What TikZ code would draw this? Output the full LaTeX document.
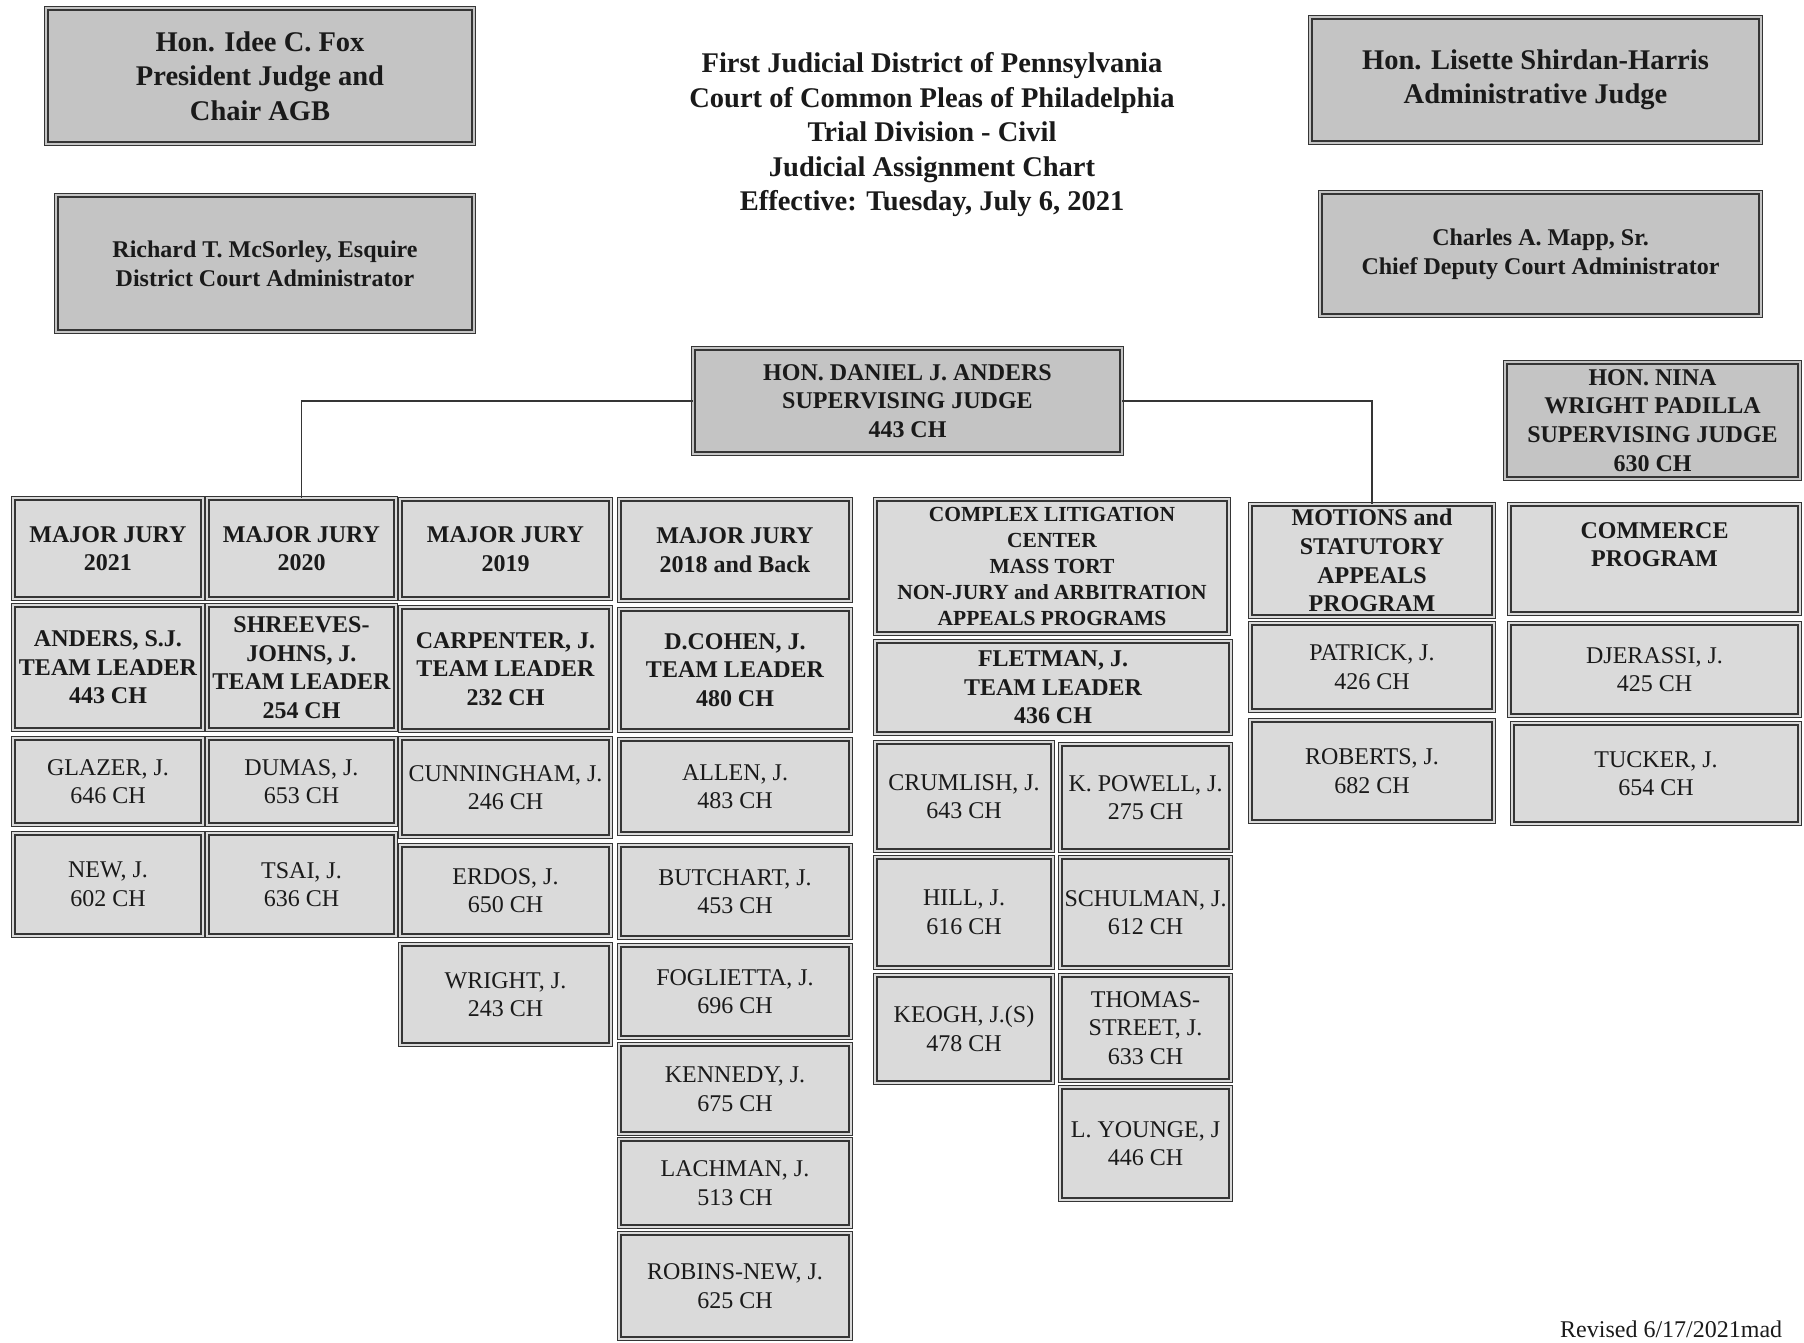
\documentclass[tikz,border=0pt]{standalone}
\usepackage{fontspec}
\setmainfont{Liberation Serif}
\definecolor{topfill}{HTML}{C4C4C4}
\definecolor{cellfill}{HTML}{DADADA}
\definecolor{bordc}{HTML}{353535}
\definecolor{txtc}{HTML}{1A1A1A}
\newcommand{\bx}[7]{\node[#6,minimum width={(#4-#2-4.6)*1pt},minimum height={(#5-#3-4.6)*1pt}] (#1) at ({(#2+#4)/2},{(#3+#5)/2}) {#7};}
\begin{document}
\begin{tikzpicture}[x=1pt,y=-1pt,
  frame/.style={draw=bordc,line width=1.35pt,double distance=1.8pt,inner sep=0pt,align=center,text=txtc,rectangle},
  topbox/.style={frame,fill=topfill,double=topfill,font=\bfseries\fontsize{28.5}{34.5}\selectfont},
  midbox/.style={frame,fill=topfill,double=topfill,font=\bfseries\fontsize{24}{28.8}\selectfont},
  hdr/.style={frame,fill=cellfill,double=cellfill,font=\bfseries\fontsize{24}{28.6}\selectfont},
  hdrsmall/.style={frame,fill=cellfill,double=cellfill,font=\bfseries\fontsize{21.5}{26}\selectfont},
  jud/.style={frame,fill=cellfill,double=cellfill,font=\fontsize{24}{28.6}\selectfont},
  conn/.style={draw=bordc,line width=1.6pt}]
\useasboundingbox[fill=white] (0,0) rectangle (1804,1343);

% title
\node[align=center,text=txtc,font=\bfseries\fontsize{28.5}{34.5}\selectfont] (title) at (932,135)
  {First Judicial District of Pennsylvania\\Court of Common Pleas of Philadelphia\\Trial Division - Civil\\Judicial Assignment Chart\\Effective: Tuesday, July 6, 2021};

% top boxes
\bx{fox}{44}{6}{476}{146}{topbox}{Hon. Idee C. Fox\\President Judge and\\Chair AGB}
\bx{mcsorley}{54}{193}{476}{334}{topbox,font=\bfseries\fontsize{24}{28.8}\selectfont}{Richard T. McSorley, Esquire\\District Court Administrator}
\bx{shirdan}{1308}{15}{1763}{145}{topbox}{Hon. Lisette Shirdan-Harris\\Administrative Judge}
\bx{mapp}{1318}{190}{1763}{318}{topbox,font=\bfseries\fontsize{24}{28.8}\selectfont}{Charles A. Mapp, Sr.\\Chief Deputy Court Administrator}
\bx{anders}{691}{346}{1124}{456}{midbox}{HON. DANIEL J. ANDERS\\SUPERVISING JUDGE\\443 CH}
\bx{padilla}{1503}{360}{1802}{481}{midbox}{HON. NINA\\WRIGHT PADILLA\\SUPERVISING JUDGE\\630 CH}

% column A
\bx{mj21}{11}{496}{205}{601}{hdr}{MAJOR JURY\\2021}
\bx{anderssj}{11}{603}{205}{732}{hdr}{ANDERS, S.J.\\TEAM LEADER\\443 CH}
\bx{glazer}{11}{736}{205}{827}{jud}{GLAZER, J.\\646 CH}
\bx{new}{11}{831}{205}{938}{jud}{NEW, J.\\602 CH}
% column B
\bx{mj20}{205}{496}{398}{601}{hdr}{MAJOR JURY\\2020}
\bx{shreeves}{205}{603}{398}{732}{hdr}{SHREEVES-\\JOHNS, J.\\TEAM LEADER\\254 CH}
\bx{dumas}{205}{736}{398}{827}{jud}{DUMAS, J.\\653 CH}
\bx{tsai}{205}{831}{398}{938}{jud}{TSAI, J.\\636 CH}
% column C
\bx{mj19}{398}{497}{613}{601}{hdr}{MAJOR JURY\\2019}
\bx{carpenter}{398}{605}{613}{733}{hdr}{CARPENTER, J.\\TEAM LEADER\\232 CH}
\bx{cunningham}{398}{736}{613}{839}{jud}{CUNNINGHAM, J.\\246 CH}
\bx{erdos}{398}{843}{613}{938}{jud}{ERDOS, J.\\650 CH}
\bx{wright}{398}{942}{613}{1047}{jud}{WRIGHT, J.\\243 CH}
% column D
\bx{mj18}{617}{497}{853}{603}{hdr}{MAJOR JURY\\2018 and Back}
\bx{cohen}{617}{607}{853}{733}{hdr}{D.COHEN, J.\\TEAM LEADER\\480 CH}
\bx{allen}{617}{737}{853}{836}{jud}{ALLEN, J.\\483 CH}
\bx{butchart}{617}{843}{853}{940}{jud}{BUTCHART, J.\\453 CH}
\bx{foglietta}{617}{943}{853}{1040}{jud}{FOGLIETTA, J.\\696 CH}
\bx{kennedy}{617}{1042}{853}{1136}{jud}{KENNEDY, J.\\675 CH}
\bx{lachman}{617}{1137}{853}{1229}{jud}{LACHMAN, J.\\513 CH}
\bx{robins}{617}{1231}{853}{1341}{jud}{ROBINS-NEW, J.\\625 CH}
% column E
\bx{complex}{873}{497}{1231}{636}{hdrsmall}{COMPLEX LITIGATION\\CENTER\\MASS TORT\\NON-JURY and ARBITRATION\\APPEALS PROGRAMS}
\bx{fletman}{873}{639}{1233}{736}{hdr}{FLETMAN, J.\\TEAM LEADER\\436 CH}
\bx{crumlish}{873}{740}{1055}{853}{jud}{CRUMLISH, J.\\643 CH}
\bx{hill}{873}{855}{1055}{970}{jud}{HILL, J.\\616 CH}
\bx{keogh}{873}{973}{1055}{1085}{jud}{KEOGH, J.(S)\\478 CH}
\bx{powell}{1058}{742}{1233}{853}{jud}{K. POWELL, J.\\275 CH}
\bx{schulman}{1058}{855}{1233}{970}{jud}{SCHULMAN, J.\\612 CH}
\bx{thomas}{1058}{973}{1233}{1083}{jud}{THOMAS-\\STREET, J.\\633 CH}
\bx{younge}{1058}{1085}{1233}{1202}{jud}{L. YOUNGE, J\\446 CH}
% column F
\bx{motions}{1248}{502}{1496}{619}{hdr}{MOTIONS and\\STATUTORY\\APPEALS\\PROGRAM}
\bx{patrick}{1248}{621}{1496}{713}{jud}{PATRICK, J.\\426 CH}
\bx{roberts}{1248}{718}{1496}{824}{jud}{ROBERTS, J.\\682 CH}
% column G
\bx{commerce}{1507}{502}{1802}{616}{hdr}{COMMERCE\\PROGRAM\\\phantom{X}}
\bx{djerassi}{1507}{621}{1802}{718}{jud}{DJERASSI, J.\\425 CH}
\bx{tucker}{1510}{721}{1802}{826}{jud}{TUCKER, J.\\654 CH}

% connectors
\draw[conn] (anders.west) -| (mj20.north);
\draw[conn] (anders.east) -| (motions.north);

% revised note
\node[anchor=base west,inner sep=0pt,text=txtc,font=\fontsize{24}{28}\selectfont] (revised) at (1560,1337) {Revised 6/17/2021mad};
\end{tikzpicture}
\end{document}
